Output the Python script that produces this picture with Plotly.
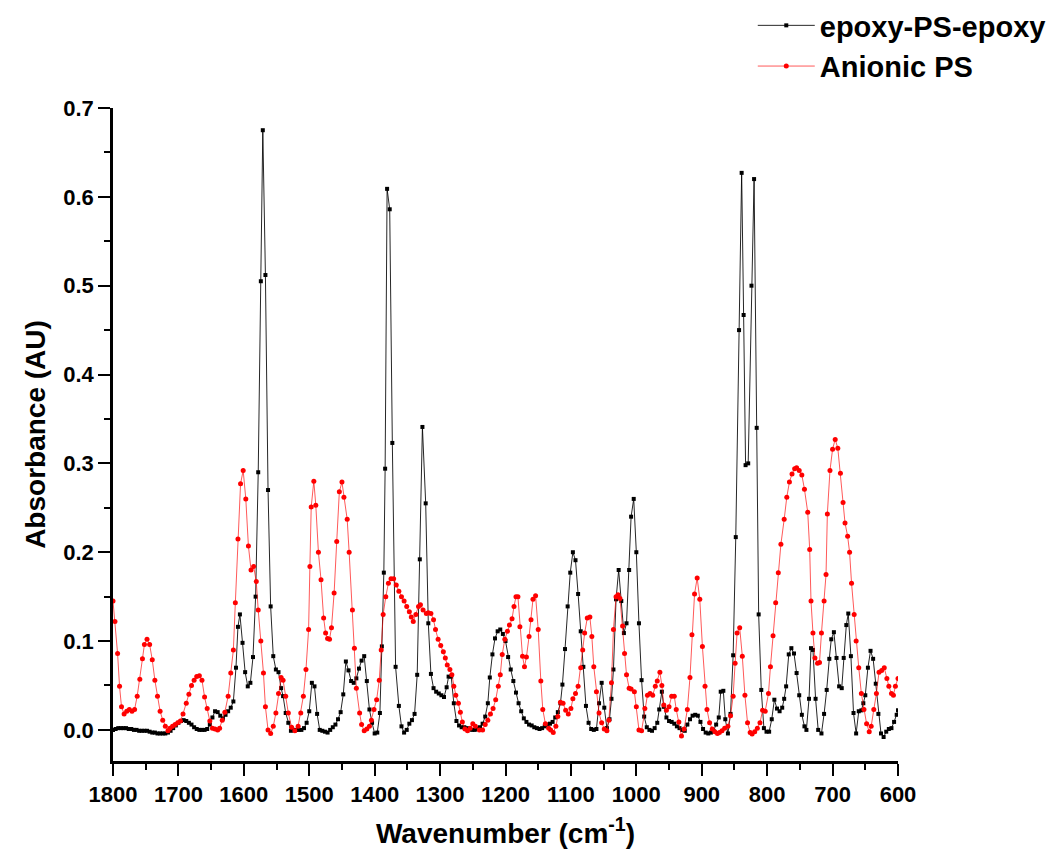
import plotly.graph_objects as go

# ---- epoxy-PS-epoxy (black) ----
black_wn = [1800,1796,1792,1788,1784,1780,1776,1772,1768,1764,1760,1756,1752,1748,1744,1740,1736,1732,1728,1724,
            1720,1716,1712,1708,1704,1700,1696,1692,1688,1684,1680,1676,1672,1668,1664,1660,1656,1652,1648,1644,
            1640,1636,1632,1628,1624,1620,1616,1612,1609,1606,1602,1598,1594,1590,1586,1582,1578,1574,1571,1567,
            1563,1559,1555,1551,1547,1543,1540,1536,1532,1528,1524,1520,1516,1512,1508,1504,1500,1496,1492,1488,
            1484,1480,1476,1472,1468,1464,1460,1456,1452,1448,1444,1440,1436,1432,1428,1424,1420,1416,1412,1408,
            1404,1400,1396,1392,1389,1386,1384,1381,1377,1373,1368,1363,1359,1355,1351,1347,1343,1339,1335,1331,
            1327,1322,1318,1314,1310,1306,1302,1298,1294,1290,1287,1283,1279,1275,1271,1267,1263,1259,1255,1251,
            1247,1243,1239,1235,1231,1227,1224,1220,1216,1212,1208,1204,1200,1196,1192,1188,1184,1180,1176,1172,
            1168,1164,1160,1156,1152,1148,1144,1140,1136,1132,1128,1124,1120,1116,1113,1109,1105,1101,1097,1093,
            1089,1085,1081,1077,1073,1069,1065,1061,1057,1053,1049,1045,1041,1038,1035,1031,1027,1023,1019,1015,
            1011,1008,1004,1000,996,992,988,984,980,976,972,968,965,961,958,954,950,946,942,938,
            934,930,926,922,918,914,910,906,902,898,894,890,886,882,878,874,871,867,864,860,
            856,852,848,843,839,836,833,829,824,820,816,813,809,805,801,797,793,789,785,781,
            777,774,771,767,763,759,755,751,747,743,740,736,733,730,726,722,717,713,709,705,
            702,698,694,690,686,683,679,676,672,668,664,660,656,653,650,646,642,638,634,630,
            626,622,618,614,610,606,602,600]
black_abs = [0.000,0.001,0.002,0.002,0.002,0.002,0.001,0.001,0.000,0.000,-0.001,-0.001,-0.001,-0.001,-0.002,-0.003,-0.003,-0.004,-0.004,-0.004,
             -0.004,-0.003,-0.001,0.002,0.005,0.008,0.010,0.011,0.010,0.008,0.006,0.003,0.001,0.000,0.000,0.000,0.001,0.006,0.014,0.021,
             0.020,0.016,0.013,0.017,0.021,0.025,0.032,0.070,0.116,0.130,0.098,0.065,0.049,0.053,0.082,0.150,0.290,0.505,0.675,0.512,
             0.270,0.139,0.083,0.068,0.065,0.047,0.038,0.019,0.008,-0.001,0.000,0.000,0.000,0.000,0.002,0.008,0.021,0.053,0.049,0.018,
             0.000,-0.001,-0.002,-0.003,0.000,0.003,0.006,0.012,0.020,0.040,0.077,0.067,0.055,0.053,0.058,0.069,0.078,0.083,0.055,0.023,
             0.008,-0.004,-0.003,0.019,0.094,0.177,0.294,0.609,0.586,0.323,0.071,0.027,0.004,-0.003,0.000,0.007,0.011,0.018,0.062,0.192,
             0.341,0.255,0.120,0.063,0.047,0.043,0.041,0.039,0.037,0.048,0.060,0.060,0.030,0.010,0.005,0.003,0.003,0.002,0.001,0.000,
             0.000,0.001,0.003,0.007,0.015,0.030,0.059,0.085,0.103,0.111,0.113,0.108,0.100,0.082,0.068,0.055,0.042,0.030,0.021,0.013,
             0.009,0.006,0.005,0.003,0.002,0.001,0.002,0.004,0.006,0.007,0.009,0.014,0.020,0.030,0.051,0.091,0.139,0.177,0.200,0.191,
             0.153,0.111,0.071,0.027,0.008,0.001,0.000,0.001,0.030,0.053,0.025,0.002,0.012,0.035,0.068,0.147,0.180,0.145,0.109,0.120,
             0.180,0.240,0.260,0.200,0.120,0.056,0.015,0.003,0.000,-0.001,0.002,0.008,0.023,0.043,0.026,0.014,0.010,0.009,0.007,0.004,
             0.002,0.000,-0.001,0.006,0.012,0.016,0.017,0.016,0.009,0.001,-0.003,-0.004,-0.003,-0.001,0.006,0.014,0.043,0.044,0.012,-0.004,
             0.018,0.084,0.217,0.450,0.627,0.467,0.298,0.300,0.500,0.620,0.340,0.130,0.045,0.002,-0.002,-0.002,0.012,0.034,0.024,0.021,
             0.025,0.035,0.049,0.085,0.092,0.086,0.064,0.039,0.017,0.004,0.000,0.035,0.092,0.090,0.035,0.000,-0.004,0.018,0.045,0.080,
             0.102,0.110,0.081,0.049,0.047,0.081,0.118,0.131,0.083,0.019,-0.004,0.021,0.022,0.030,0.039,0.070,0.089,0.080,0.052,0.018,
             -0.004,-0.008,-0.002,0.001,0.002,0.009,0.017,0.022]

# ---- Anionic PS (red) ----
red_wn = [1800,1797,1793,1790,1787,1783,1779,1775,1771,1767,1763,1759,1755,1752,1748,1744,1740,1736,1732,1728,
          1724,1720,1716,1713,1709,1705,1701,1697,1693,1688,1684,1680,1676,1672,1668,1664,1660,1656,1652,1648,
          1644,1640,1637,1633,1629,1624,1620,1616,1613,1609,1605,1601,1597,1593,1589,1585,1581,1578,1574,1570,
          1567,1563,1559,1555,1551,1547,1543,1540,1536,1532,1527,1522,1517,1513,1509,1505,1501,1499,1497,1493,
          1490,1486,1482,1478,1475,1472,1469,1466,1462,1458,1454,1450,1447,1442,1439,1434,1431,1428,1423,1420,
          1416,1412,1408,1405,1401,1397,1393,1390,1387,1383,1379,1375,1371,1367,1363,1359,1355,1351,1347,1344,
          1341,1337,1333,1330,1326,1321,1318,1314,1310,1307,1303,1299,1295,1292,1289,1285,1282,1279,1276,1272,
          1269,1266,1262,1258,1254,1250,1246,1240,1235,1231,1227,1223,1219,1215,1211,1208,1205,1201,1197,1194,
          1190,1187,1184,1181,1178,1174,1171,1168,1164,1161,1158,1154,1150,1146,1143,1139,1134,1131,1127,1123,
          1120,1116,1112,1108,1104,1100,1097,1093,1089,1085,1082,1079,1075,1071,1068,1065,1061,1057,1053,1049,
          1045,1042,1038,1035,1031,1028,1025,1021,1018,1015,1011,1008,1003,1000,996,992,987,983,979,975,
          971,968,964,961,958,954,950,946,942,939,935,931,927,922,918,915,911,907,903,899,
          895,892,888,884,880,876,873,869,865,860,856,852,849,846,842,838,834,830,826,823,
          819,815,811,807,803,798,795,791,787,783,779,774,770,766,762,758,755,751,747,743,
          738,735,733,730,727,723,720,717,713,710,708,704,700,696,692,688,684,681,677,674,
          671,667,664,660,656,652,648,644,641,637,633,629,625,621,617,614,610,607,604,600]
red_abs = [0.145,0.122,0.086,0.049,0.026,0.018,0.021,0.023,0.021,0.023,0.038,0.057,0.080,0.096,0.102,0.096,0.079,0.056,0.038,0.021,
           0.011,0.004,-0.001,0.002,0.004,0.006,0.008,0.010,0.018,0.030,0.040,0.050,0.056,0.060,0.061,0.056,0.037,0.024,0.010,0.002,
           0.001,0.000,0.002,0.011,0.020,0.038,0.064,0.090,0.143,0.215,0.277,0.292,0.260,0.207,0.180,0.184,0.167,0.135,0.100,0.064,
           0.026,0.000,-0.004,0.004,0.019,0.041,0.059,0.056,0.038,0.019,0.003,-0.001,0.004,0.019,0.038,0.068,0.113,0.184,0.251,0.280,
           0.253,0.200,0.169,0.126,0.109,0.103,0.102,0.115,0.154,0.212,0.268,0.279,0.262,0.237,0.200,0.135,0.092,0.047,0.019,0.006,
           -0.001,0.001,0.004,0.011,0.023,0.034,0.056,0.090,0.130,0.150,0.165,0.170,0.170,0.163,0.156,0.150,0.145,0.139,0.133,0.127,
           0.122,0.130,0.139,0.141,0.135,0.131,0.132,0.131,0.124,0.113,0.102,0.095,0.088,0.081,0.073,0.068,0.062,0.049,0.039,0.030,
           0.020,0.009,0.001,-0.001,0.002,0.007,0.004,0.000,0.000,0.006,0.011,0.018,0.024,0.034,0.049,0.062,0.085,0.102,0.111,0.118,
           0.125,0.139,0.150,0.150,0.116,0.083,0.071,0.082,0.105,0.124,0.147,0.151,0.113,0.055,0.023,0.007,0.002,0.000,-0.003,0.004,
           0.015,0.031,0.030,0.022,0.018,0.024,0.035,0.041,0.049,0.070,0.090,0.109,0.126,0.127,0.105,0.071,0.043,0.019,0.008,0.001,
           -0.001,0.011,0.053,0.113,0.150,0.152,0.148,0.117,0.086,0.062,0.047,0.046,0.043,0.026,0.000,-0.001,0.024,0.039,0.041,0.039,
           0.049,0.055,0.065,0.050,0.028,0.022,0.026,0.038,0.038,0.023,0.009,-0.007,0.001,0.023,0.059,0.107,0.153,0.171,0.147,0.094,
           0.049,0.023,0.008,0.001,-0.002,-0.004,-0.003,-0.001,0.002,0.004,0.016,0.038,0.075,0.109,0.115,0.083,0.039,0.008,-0.003,-0.0045,
           -0.002,0.002,0.008,0.022,0.021,0.041,0.071,0.106,0.143,0.177,0.209,0.237,0.262,0.279,0.288,0.294,0.295,0.292,0.287,0.271,
           0.245,0.203,0.145,0.109,0.081,0.075,0.076,0.109,0.145,0.175,0.243,0.292,0.316,0.327,0.317,0.289,0.256,0.233,0.218,0.200,
           0.165,0.130,0.100,0.070,0.041,0.023,0.007,-0.002,0.004,0.023,0.041,0.065,0.067,0.070,0.058,0.049,0.041,0.039,0.049,0.058]

x_ticks = [1800, 1700, 1600, 1500, 1400, 1300, 1200, 1100, 1000, 900, 800, 700, 600]
y_ticks = [0.0, 0.1, 0.2, 0.3, 0.4, 0.5, 0.6, 0.7]

FONT = "Liberation Sans, Arial, sans-serif"

fig = go.Figure()
fig.add_trace(go.Scatter(
    x=black_wn, y=black_abs, name="epoxy-PS-epoxy", mode="lines+markers",
    line=dict(color="rgba(0,0,0,0.85)", width=1),
    marker=dict(symbol="square", size=4, color="black")))
fig.add_trace(go.Scatter(
    x=red_wn, y=red_abs, name="Anionic PS", mode="lines+markers",
    line=dict(color="rgba(255,0,0,0.65)", width=1),
    marker=dict(symbol="circle", size=5, color="red")))

axis_common = dict(
    showline=True, linecolor="black", linewidth=2.5, mirror=False,
    showgrid=False, zeroline=False,
    ticks="outside", ticklen=12, tickwidth=2, tickcolor="black",
    tickfont=dict(family=FONT, size=22, color="black", weight="bold"),
)

fig.update_layout(
    width=1057, height=855,
    paper_bgcolor="white", plot_bgcolor="white",
    margin=dict(l=113, r=159, t=108, b=94, autoexpand=False),
    showlegend=True,
    legend=dict(x=0.815, xref="paper", y=1.0, yref="container",
                xanchor="left", yanchor="top",
                font=dict(family=FONT, size=29, color="black", weight="bold"),
                bgcolor="rgba(0,0,0,0)", itemwidth=57, tracegroupgap=0),
    xaxis=dict(range=[1800, 600], tickmode="array", tickvals=x_ticks,
               ticktext=[str(v) for v in x_ticks],
               minor=dict(dtick=50, ticklen=6, tickwidth=2, tickcolor="black", ticks="outside"),
               title=dict(text="Wavenumber (cm<sup>-1</sup>)", standoff=18,
                          font=dict(family=FONT, size=28, color="black", weight="bold")),
               **axis_common),
    yaxis=dict(range=[-0.035, 0.7], tickmode="array", tickvals=y_ticks,
               ticktext=[f"{v:.1f}" for v in y_ticks],
               minor=dict(dtick=0.05, ticklen=6, tickwidth=2, tickcolor="black", ticks="outside"),
               title=dict(text="Absorbance (AU)", standoff=10,
                          font=dict(family=FONT, size=28, color="black", weight="bold")),
               **axis_common),
)

fig.write_html("out.html")
